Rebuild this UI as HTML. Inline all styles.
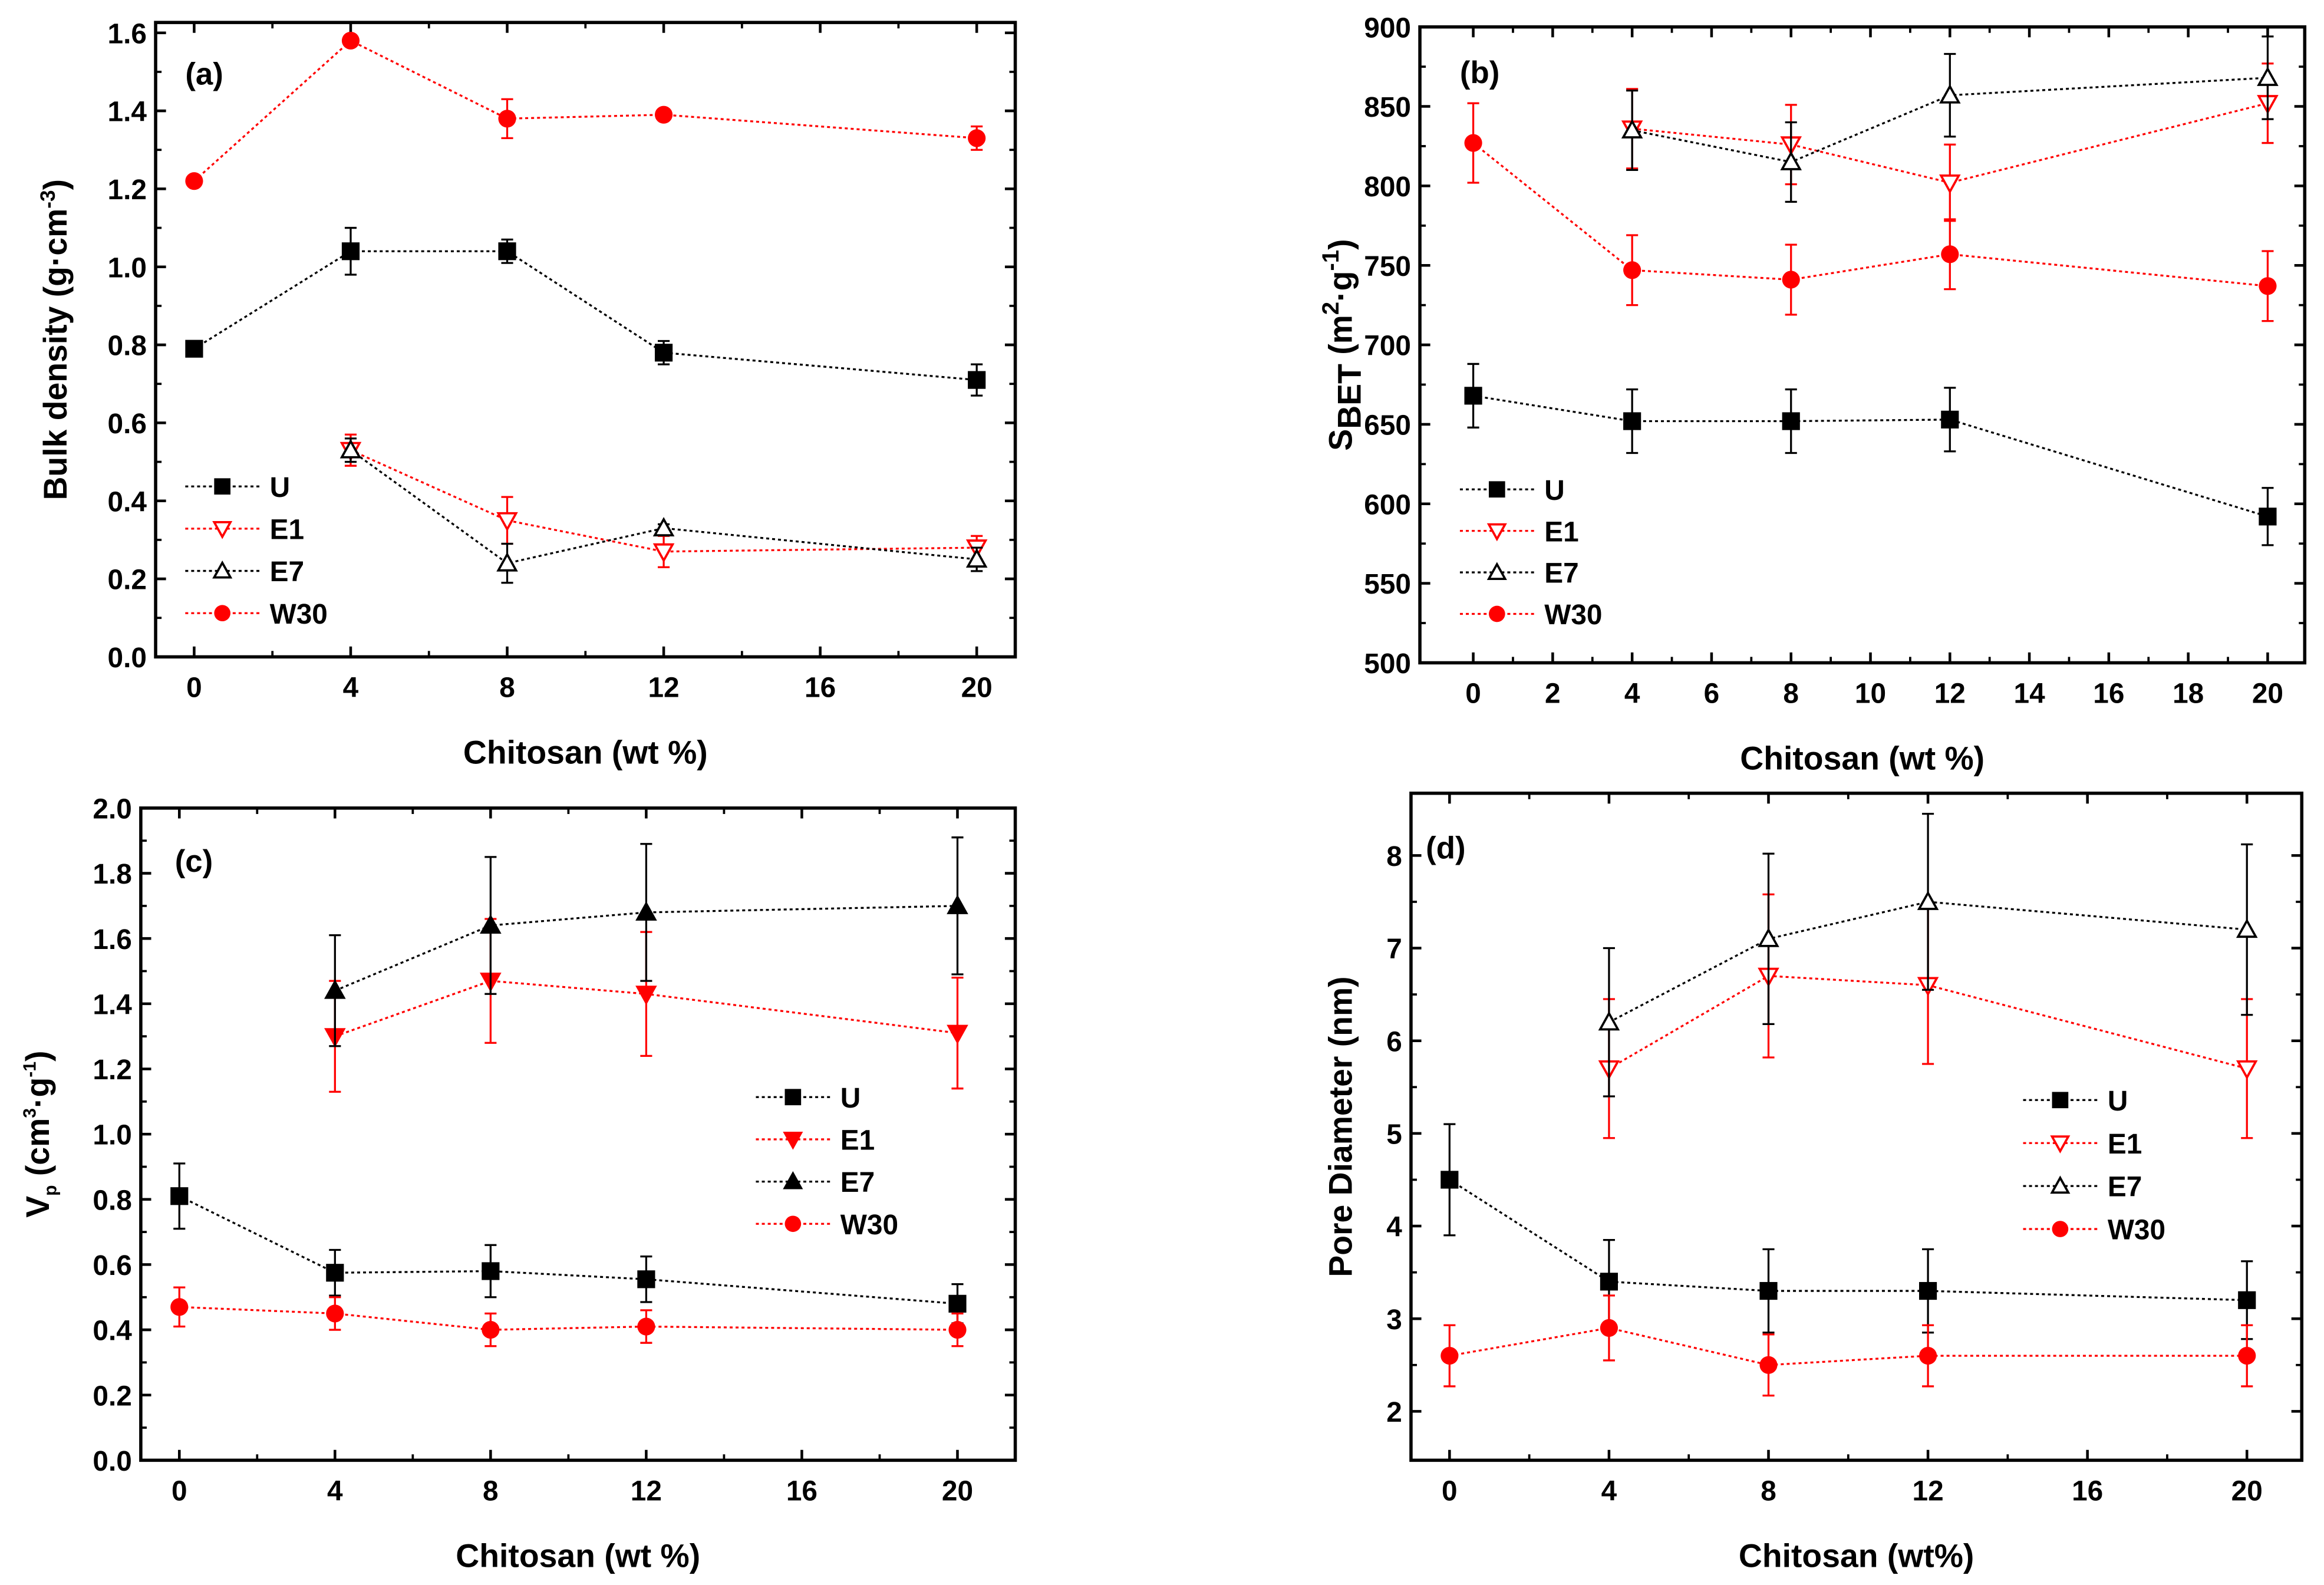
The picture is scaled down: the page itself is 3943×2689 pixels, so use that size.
<!DOCTYPE html>
<html><head><meta charset="utf-8"><style>
html,body{margin:0;padding:0;background:#fff;}
svg{display:block;font-family:"Liberation Sans",Arial,sans-serif;font-weight:bold;}
</style></head><body>
<svg id="fig" width="3943" height="2689" viewBox="0 0 1568 1069" xmlns="http://www.w3.org/2000/svg"></svg>
<script>
const xsAll=[0,4,8,12,20];
const xs4=[4,8,12,20];
// Panel a
const aU=[0.79,1.04,1.04,0.78,0.71], aUe=[0.01,0.06,0.03,0.03,0.04];
const aE1=[0.53,0.35,0.27,0.28], aE1e=[0.04,0.06,0.04,0.03];
const aE7=[0.53,0.24,0.33,0.25], aE7e=[0.03,0.05,0.01,0.03];
const aW=[1.22,1.58,1.38,1.39,1.33], aWe=[0.01,0.01,0.05,0.01,0.03];
const aYT=["0.0","0.2","0.4","0.6","0.8","1.0","1.2","1.4","1.6"];
const aXT=["0","4","8","12","16","20"];
// Panel b
const bU=[668,652,652,653,592], bUe=[20,20,20,20,18];
const bE1=[836,826,802,852], bE1e=[25,25,24,25];
const bE7=[835,815,857,868], bE7e=[25,25,26,26];
const bW=[827,747,741,757,737], bWe=[25,22,22,22,22];
const bYT=["500","550","600","650","700","750","800","850","900"];
const bXT=["0","2","4","6","8","10","12","14","16","18","20"];
// Panel c
const cU=[0.81,0.575,0.58,0.555,0.48], cUe=[0.1,0.07,0.08,0.07,0.06];
const cE1=[1.30,1.47,1.43,1.31], cE1e=[0.17,0.19,0.19,0.17];
const cE7=[1.44,1.64,1.68,1.70], cE7e=[0.17,0.21,0.21,0.21];
const cW=[0.47,0.45,0.40,0.41,0.40], cWe=[0.06,0.05,0.05,0.05,0.05];
const cYT=["0.0","0.2","0.4","0.6","0.8","1.0","1.2","1.4","1.6","1.8","2.0"];
// Panel d
const dU=[4.5,3.4,3.3,3.3,3.2], dUe=[0.6,0.45,0.45,0.45,0.42];
const dE1=[5.7,6.7,6.6,5.7], dE1e=[0.75,0.88,0.85,0.75];
const dE7=[6.2,7.1,7.5,7.2], dE7e=[0.8,0.92,0.95,0.92];
const dW=[2.6,2.9,2.5,2.6,2.6], dWe=[0.33,0.35,0.33,0.33,0.33];
const dYT=["2","3","4","5","6","7","8"];

const NS="http://www.w3.org/2000/svg";
const svg=document.getElementById('fig');
function mk(tag,attrs,parent,text){const e=document.createElementNS(NS,tag);for(const k in attrs)e.setAttribute(k,attrs[k]);if(text!==undefined)e.textContent=text;(parent||svg).appendChild(e);return e;}

function panel(P){
  const g=mk('g',{});
  
  
  const sx=v=>P.x0+(v-0)*(P.x20-P.x0)/20;
  const sy=v=>P.yb-(v-P.ymin)*(P.yb-P.ytop)/(P.ymax-P.ymin);
  const fr=mk('rect',{x:P.L,y:P.T,width:P.R-P.L,height:P.B-P.T,fill:'none',stroke:'#000','stroke-width':2.2},g);
  
  
  P.xticks.forEach((t,i)=>{const v=parseFloat(t);const X=sx(v);
    mk('line',{x1:X,y1:P.B,x2:X,y2:P.B-7,stroke:'#000','stroke-width':1.8},g);
    mk('line',{x1:X,y1:P.T,x2:X,y2:P.T+7,stroke:'#000','stroke-width':1.8},g);
    const tl=mk('text',{x:X,y:P.B+27,'text-anchor':'middle','font-size':19},g,t);
    
    
    if(i<P.xticks.length-1){const v2=parseFloat(P.xticks[i+1]);const Xm=sx((v+v2)/2);
      mk('line',{x1:Xm,y1:P.B,x2:Xm,y2:P.B-4,stroke:'#000','stroke-width':1.5},g);
      mk('line',{x1:Xm,y1:P.T,x2:Xm,y2:P.T+4,stroke:'#000','stroke-width':1.5},g);}
  });
  P.yticks.forEach((t,i)=>{const v=parseFloat(t);const Y=sy(v);
    mk('line',{x1:P.L,y1:Y,x2:P.L+7,y2:Y,stroke:'#000','stroke-width':1.8},g);
    mk('line',{x1:P.R,y1:Y,x2:P.R-7,y2:Y,stroke:'#000','stroke-width':1.8},g);
    const tl=mk('text',{x:P.L-6,y:Y+7,'text-anchor':'end','font-size':19},g,t);
    
    
    if(i<P.yticks.length-1){const v2=parseFloat(P.yticks[i+1]);const Ym=sy((v+v2)/2);
      mk('line',{x1:P.L,y1:Ym,x2:P.L+4,y2:Ym,stroke:'#000','stroke-width':1.5},g);
      mk('line',{x1:P.R,y1:Ym,x2:P.R-4,y2:Ym,stroke:'#000','stroke-width':1.5},g);}
  });
  P.series.forEach(s=>{
    const sg=mk('g',{},g);
    
    
    const pts=s.x.map((xv,i)=>[sx(xv),sy(s.y[i])]);
    mk('polyline',{points:pts.map(p=>p.join(',')).join(' '),fill:'none',stroke:s.c,'stroke-width':1.3,'stroke-dasharray':'2,2'},sg);
    s.x.forEach((xv,i)=>{const X=sx(xv),Y=sy(s.y[i]);const e=s.e[i];
      const y1=sy(s.y[i]+e),y2=sy(s.y[i]-e);
      mk('line',{x1:X,y1:y1,x2:X,y2:y2,stroke:s.c,'stroke-width':1.3},sg);
      mk('line',{x1:X-4,y1:y1,x2:X+4,y2:y1,stroke:s.c,'stroke-width':1.3},sg);
      mk('line',{x1:X-4,y1:y2,x2:X+4,y2:y2,stroke:s.c,'stroke-width':1.3},sg);
      const m=marker(s.m,X,Y,s.c,sg,6);
      
      
    });
  });
  P.series.forEach((s,i)=>{const Y=P.lg[1]+i*P.lg[2];const X=P.lg[0];
    const lg=mk('g',{},g);
    
    
    mk('line',{x1:X,y1:Y,x2:X+50,y2:Y,stroke:s.c,'stroke-width':1.3,'stroke-dasharray':'2,2'},lg);
    marker(s.m,X+25,Y,s.c,lg,5.5);
    mk('text',{x:X+57,y:Y+7,'font-size':19},lg,s.label);
  });
  const pl=mk('text',{x:P.tag[0],y:P.tag[1],'font-size':21},g,P.tagT);
  
  
  const xl=mk('text',{x:(P.L+P.R)/2,y:P.B+72,'text-anchor':'middle','font-size':22},g,P.xlab);
  
  
  const yl=mk('text',{x:0,y:0,'text-anchor':'middle','font-size':22,transform:`translate(${P.ylx},${(P.T+P.B)/2}) rotate(-90)`},g);
  yl.innerHTML=P.ylab;
  
  
}
function marker(type,X,Y,c,parent,r){
  const fill=type.endsWith('o')?'#fff':c;const t=type[0];
  if(t==='s')return mk('rect',{x:X-r,y:Y-r,width:2*r,height:2*r,fill:c},parent);
  if(t==='c')return mk('circle',{cx:X,cy:Y,r:r,fill:c},parent);
  if(t==='d')return mk('polygon',{points:`${X-r},${Y-r*0.8} ${X+r},${Y-r*0.8} ${X},${Y+r}`,fill:fill,stroke:c,'stroke-width':1.5},parent);
  return mk('polygon',{points:`${X-r},${Y+r*0.8} ${X+r},${Y+r*0.8} ${X},${Y-r}`,fill:fill,stroke:c,'stroke-width':1.5},parent);
}
const R='#f00',K='#000';
const XT5=["0","4","8","12","16","20"];
panel({name:'panel-a',L:105,R:685,T:15,B:443,x0:131,x20:659,yb:443,ytop:22,ymin:0,ymax:1.6,xticks:aXT,yticks:aYT,
  series:[{label:'U',x:xsAll,y:aU,e:aUe,c:K,m:'s'},{label:'E1',x:xs4,y:aE1,e:aE1e,c:R,m:'do'},{label:'E7',x:xs4,y:aE7,e:aE7e,c:K,m:'uo'},{label:'W30',x:xsAll,y:aW,e:aWe,c:R,m:'c'}],
  lg:[125,328,28.5],tag:[125,57],tagT:'(a)',xlab:'Chitosan (wt %)',ylx:45,ylab:'Bulk density (g·cm<tspan dy="-8" font-size="14">-3</tspan><tspan dy="8">)</tspan>'});
panel({name:'panel-b',L:958,R:1555,T:18,B:447,x0:994,x20:1530,yb:447,ytop:18,ymin:500,ymax:900,xticks:bXT,yticks:bYT,
  series:[{label:'U',x:xsAll,y:bU,e:bUe,c:K,m:'s'},{label:'E1',x:xs4,y:bE1,e:bE1e,c:R,m:'do'},{label:'E7',x:xs4,y:bE7,e:bE7e,c:K,m:'uo'},{label:'W30',x:xsAll,y:bW,e:bWe,c:R,m:'c'}],
  lg:[985,330,28],tag:[985,56],tagT:'(b)',xlab:'Chitosan (wt %)',ylx:912,ylab:'S<tspan dy="6">BET</tspan><tspan dy="-6"> (m</tspan><tspan dy="-9" font-size="16">2</tspan><tspan dy="9">·g</tspan><tspan dy="-9" font-size="16">-1</tspan><tspan dy="9">)</tspan>'});
panel({name:'panel-c',L:95,R:685,T:545,B:985,x0:121,x20:646,yb:985,ytop:545,ymin:0,ymax:2.0,xticks:XT5,yticks:cYT,
  series:[{label:'U',x:xsAll,y:cU,e:cUe,c:K,m:'s'},{label:'E1',x:xs4,y:cE1,e:cE1e,c:R,m:'d'},{label:'E7',x:xs4,y:cE7,e:cE7e,c:K,m:'u'},{label:'W30',x:xsAll,y:cW,e:cWe,c:R,m:'c'}],
  lg:[510,740,28.5],tag:[118,588],tagT:'(c)',xlab:'Chitosan (wt %)',ylx:33,ylab:'V<tspan dy="5" font-size="12">p</tspan><tspan dy="-5"> (cm</tspan><tspan dy="-9" font-size="12">3</tspan><tspan dy="9">·g</tspan><tspan dy="-9" font-size="12">-1</tspan><tspan dy="9">)</tspan>'});
panel({name:'panel-d',L:952,R:1553,T:535,B:985,x0:978,x20:1516,yb:952,ytop:577,ymin:2,ymax:8,xticks:XT5,yticks:dYT,
  series:[{label:'U',x:xsAll,y:dU,e:dUe,c:K,m:'s'},{label:'E1',x:xs4,y:dE1,e:dE1e,c:R,m:'do'},{label:'E7',x:xs4,y:dE7,e:dE7e,c:K,m:'uo'},{label:'W30',x:xsAll,y:dW,e:dWe,c:R,m:'c'}],
  lg:[1365,742,29],tag:[962,579],tagT:'(d)',xlab:'Chitosan (wt%)',ylx:912,ylab:'Pore Diameter (nm)'});
</script>
</body></html>
